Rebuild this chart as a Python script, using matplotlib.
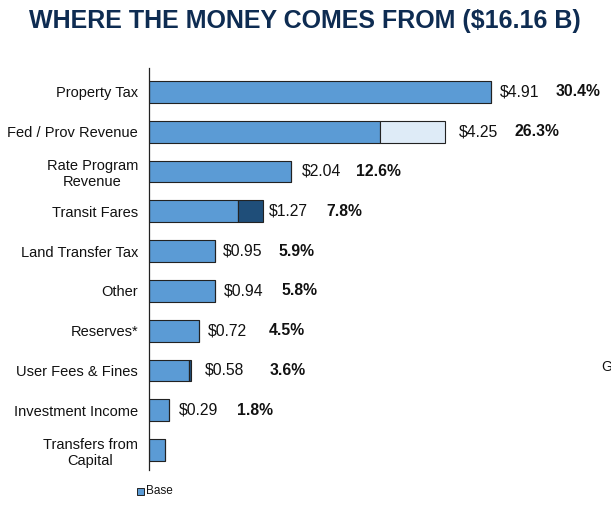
import matplotlib
matplotlib.use("Agg")
import matplotlib.pyplot as plt
from matplotlib.patches import Rectangle

plt.rcParams['font.family'] = ['Liberation Sans', 'DejaVu Sans']

categories = ["Property Tax", "Fed / Prov Revenue", "Rate Program\nRevenue", "Transit Fares",
              "Land Transfer Tax", "Other", "Reserves*", "User Fees & Fines",
              "Investment Income", "Transfers from\nCapital"]
base_vals = [4.91, 3.32, 2.04, 1.27, 0.95, 0.94, 0.72, 0.57, 0.29, 0.23]
light_vals = [0, 0.93, 0, 0, 0, 0, 0, 0, 0, 0]
dark_vals = [0, 0, 0, 0.36, 0, 0, 0, 0.03, 0, 0]
dollar_labels = ["$4.91", "$4.25", "$2.04", "$1.27", "$0.95", "$0.94", "$0.72", "$0.58", "$0.29", ""]
pct_labels = ["30.4%", "26.3%", "12.6%", "7.8%", "5.9%", "5.8%", "4.5%", "3.6%", "1.8%", ""]

# layout: label offsets in pixels from bar end
dollar_off = [9, 14, 11, 6, 8, 9, 9, 14, 10, 0]
pct_off = [55, 55, 54, 58, 55, 58, 61, 65, 58, 0]

W, H = 611, 518
fig = plt.figure(figsize=(W/100, H/100), dpi=100)
ax_left, ax_right, ax_top, ax_bot = 149, 611, 68, 470
ax = fig.add_axes([ax_left/W, 1-ax_bot/H, (ax_right-ax_left)/W, (ax_bot-ax_top)/H])
px_per_unit = 69.7
ax.set_xlim(0, (ax_right-ax_left)/px_per_unit)
ax.set_ylim(9.5, -0.6)

ypos = list(range(len(categories)))
bh = 0.55
base_c, light_c, dark_c, edge = "#5B9BD5", "#DEEBF7", "#1F4E79", "#222222"
ax.barh(ypos, base_vals, height=bh, color=base_c, edgecolor=edge, linewidth=0.8)
ax.barh(ypos, light_vals, left=base_vals, height=bh, color=light_c, edgecolor=edge, linewidth=0.8)
for i, d in enumerate(dark_vals):
    if d > 0:
        ax.barh(i, d, left=base_vals[i], height=bh, color=dark_c, edgecolor=edge, linewidth=0.8)

for i in ypos:
    total = base_vals[i] + light_vals[i] + dark_vals[i]
    if dollar_labels[i]:
        ax.annotate(dollar_labels[i], xy=(total, i), xytext=(dollar_off[i]*0.72, 0),
                    textcoords='offset points', va='center', ha='left', fontsize=11.3, color='#111111')
        ax.annotate(pct_labels[i], xy=(total, i), xytext=((dollar_off[i]+pct_off[i])*0.72, 0),
                    textcoords='offset points', va='center', ha='left', fontsize=11.3,
                    fontweight='bold', color='#111111')

ax.set_yticks(ypos)
ax.set_yticklabels(categories, fontsize=10.5, multialignment='center', color='#111111')
ax.tick_params(axis='y', length=0, pad=8)
ax.set_xticks([])
for s in ['top', 'right', 'bottom']:
    ax.spines[s].set_visible(False)
ax.spines['left'].set_color('#222222')
ax.spines['left'].set_linewidth(0.9)

fig.text(305/W, 1-21/H, "WHERE THE MONEY COMES FROM ($16.16 B)", ha='center', va='center',
         fontsize=18, fontweight='bold', color='#0E2C52')

# legend
fig.patches.append(Rectangle((137/W, 1-495/H), 7/W, 7/H, transform=fig.transFigure,
                             facecolor=base_c, edgecolor='#222222', linewidth=0.7))
fig.text(146/W, 1-491/H, "Base", ha='left', va='center', fontsize=8.5, color='#111111')
fig.text(601/W, 1-367/H, "G", ha='left', va='center', fontsize=10, color='#111111')

fig.savefig("out.png", dpi=100)
